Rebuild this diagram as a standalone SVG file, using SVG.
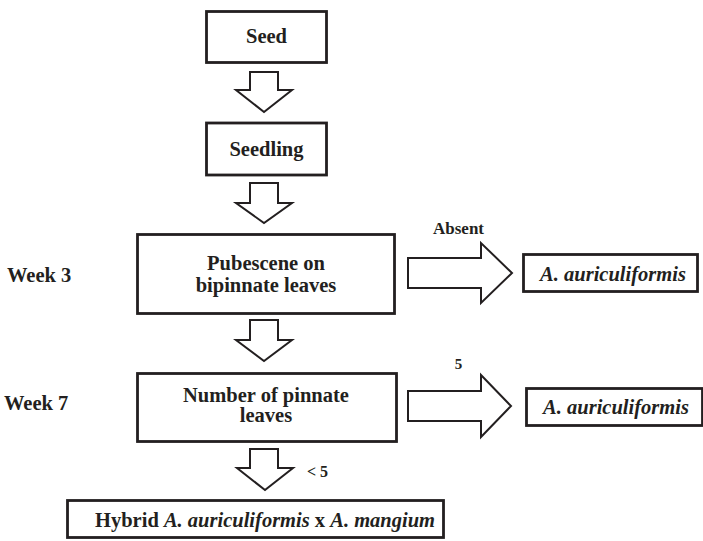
<svg xmlns="http://www.w3.org/2000/svg" width="703" height="541" viewBox="0 0 703 541" font-family="Liberation Serif, Times New Roman, DejaVu Serif, serif" font-weight="bold">
<style>
.box{fill:#fff;stroke:#231f20;stroke-width:2.8}
.arr{fill:#fff;stroke:#231f20;stroke-width:2;stroke-linejoin:miter}
text{fill:#231f20}
.t{font-size:20.5px;text-anchor:middle}
.i{font-style:italic}
</style>
<rect width="703" height="541" fill="#fff"/>
<g id="connectors">
<polygon class="arr" points="250,72 278,72 278,90 292,90 264,112 236,90 250,90"/>
<polygon class="arr" points="250,183 278,183 278,203 292,203 264,223 236,203 250,203"/>
<polygon class="arr" points="250,320 278,320 278,340 292,340 264,361 236,340 250,340"/>
<polygon class="arr" points="250,449 278,449 278,468 293,468 265,490 237,468 250,468"/>
<polygon class="arr" points="408,258 481,258 481,243 512,273 481,303 481,288 408,288"/>
<polygon class="arr" points="408,391 481,391 481,375 511,406 481,437 481,421 408,421"/>
<text x="433" y="234" font-size="17">Absent</text>
<text x="458.5" y="369" font-size="15" text-anchor="middle">5</text>
<text x="307" y="477" font-size="16">&lt; 5</text>
</g>
<g id="week3"><text x="7" y="282" font-size="20.5">Week 3</text></g>
<g id="week7"><text x="4" y="410" font-size="20.5">Week 7</text></g>
<g id="seed">
<rect class="box" x="206.5" y="11.5" width="120" height="51"/>
<text class="t" x="266.5" y="43">Seed</text>
</g>
<g id="seedling">
<rect class="box" x="206.5" y="123" width="120" height="52"/>
<text class="t" x="266.5" y="156">Seedling</text>
</g>
<g id="pubescene">
<rect class="box" x="137.5" y="234.5" width="257" height="79"/>
<text class="t" x="266" y="270">Pubescene on</text>
<text class="t" x="266" y="292">bipinnate leaves</text>
</g>
<g id="auric1">
<rect class="box" x="523.5" y="254.5" width="174" height="37"/>
<text class="t i" x="613" y="280.5">A. auriculiformis</text>
</g>
<g id="number">
<rect class="box" x="137.5" y="373.5" width="259" height="68"/>
<text class="t" x="266" y="402">Number of pinnate</text>
<text class="t" x="266" y="422">leaves</text>
</g>
<g id="auric2">
<rect class="box" x="526.5" y="388.5" width="176" height="37"/>
<text class="t i" x="616" y="414">A. auriculiformis</text>
</g>
<g id="hybrid">
<rect class="box" x="67.5" y="500.5" width="376" height="37"/>
<text x="95" y="527" font-size="20.5">Hybrid <tspan class="i">A. auriculiformis</tspan> x <tspan class="i">A. mangium</tspan></text>
</g>
</svg>
